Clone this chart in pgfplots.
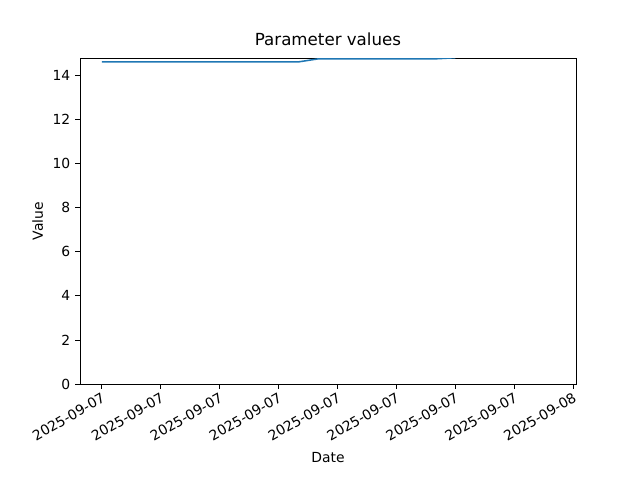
\documentclass[border=0pt]{standalone}
\usepackage{pgfplots}
\pgfplotsset{compat=1.18}
\usepackage{fontspec}
\setmainfont{DejaVu Sans}
\definecolor{mplblue}{HTML}{1F77B4}
\begin{document}
\begin{tikzpicture}
\useasboundingbox (-57.6pt,-69.12pt) rectangle (403.2pt,276.48pt);
\begin{axis}[
  at={(0,0)}, anchor=south west,
  scale only axis, width=357.12pt, height=234.72pt,
  xmin=-0.37, xmax=8.05, ymin=0, ymax=14.79,
  xtick={0,1,2,3,4,5,6,7,8},
  xticklabels={2025-09-07,2025-09-07,2025-09-07,2025-09-07,2025-09-07,2025-09-07,2025-09-07,2025-09-07,2025-09-08},
  xticklabel style={rotate=30, anchor=north east, font=\fontsize{10}{12}\selectfont, inner sep=1.5pt},
  ytick={0,2,4,6,8,10,12,14},
  yticklabel style={font=\fontsize{10}{12}\selectfont},
  /pgf/number format/assume math mode=true,
  tick align=outside, tick pos=left,
  major tick length=3.5pt,
  title={Parameter values},
  xlabel={Date}, ylabel={Value},
  label style={font=\fontsize{10}{12}\selectfont},
  xlabel style={yshift=-2pt},
  title style={font=\fontsize{12}{14}\selectfont, yshift=-1pt},
  axis line style={line width=0.6pt},
  every tick/.style={black, line width=0.6pt},
]
\addplot[mplblue, line width=1.1pt, mark=none] coordinates {
 (0,14.61) (3.33,14.61) (3.67,14.75) (5.65,14.75) (6.0,14.80)
};
\end{axis}
\end{tikzpicture}
\end{document}
